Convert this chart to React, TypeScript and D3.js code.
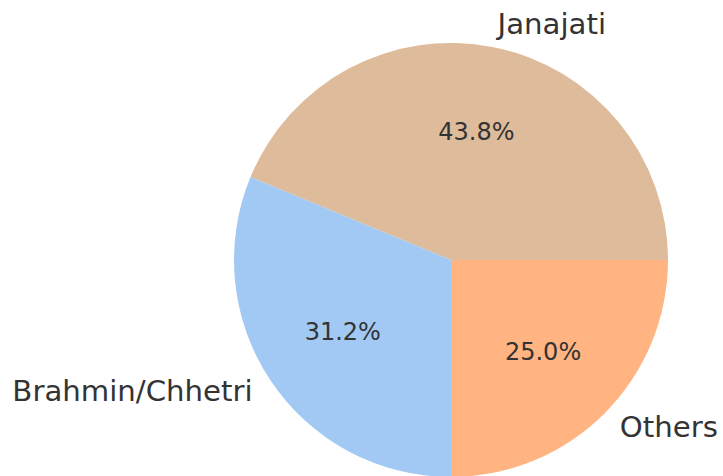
import React from "react";
import * as d3 from "d3";

const categories = ["Janajati", "Brahmin/Chhetri", "Others"];
const values = [7, 5, 4];
const colors = ["#debb9b", "#a1c9f4", "#ffb482"];

const W = 723;
const H = 476;
const cx = 451;
const cy = 260;
const R = 217;

export default function App() {
  const total = d3.sum(values);
  // matplotlib: start at 3 o'clock, counterclockwise
  let acc = 0;
  const slices = values.map((v, i) => {
    const a0 = (acc / total) * 2 * Math.PI;
    acc += v;
    const a1 = (acc / total) * 2 * Math.PI;
    return { i, v, a0, a1 };
  });
  const toD3 = (a: number) => Math.PI / 2 - a;
  const arc = d3.arc<any>().innerRadius(0).outerRadius(R);

  return (
    <svg
      width={W}
      height={H}
      style={{ position: "absolute", left: 0, top: 0, background: "#fff" }}
      fontFamily="DejaVu Sans"
    >
      <g transform={`translate(${cx},${cy})`}>
        {slices.map((s) => (
          <path
            key={s.i}
            d={arc({ startAngle: toD3(s.a1), endAngle: toD3(s.a0) }) as string}
            fill={colors[s.i]}
          />
        ))}
        {slices.map((s) => {
          const mid = (s.a0 + s.a1) / 2;
          const lx = 1.1 * R * Math.cos(mid);
          const ly = -1.1 * R * Math.sin(mid);
          const px = 0.6 * R * Math.cos(mid);
          const py = -0.6 * R * Math.sin(mid);
          const pct = ((s.v / total) * 100).toFixed(1);
          const pctStr = s.i === 1 ? "31.2" : pct;
          return (
            <g key={"t" + s.i}>
              <text
                x={lx}
                y={ly}
                dy="0.29em"
                fontSize={29.2}
                fill="#333333"
                textAnchor={lx > 0 ? "start" : "end"}
              >
                {categories[s.i]}
              </text>
              <text
                x={px}
                y={py}
                dy="0.32em"
                fontSize={24}
                fill="#333333"
                textAnchor="middle"
              >
                {pctStr + "%"}
              </text>
            </g>
          );
        })}
      </g>
    </svg>
  );
}
